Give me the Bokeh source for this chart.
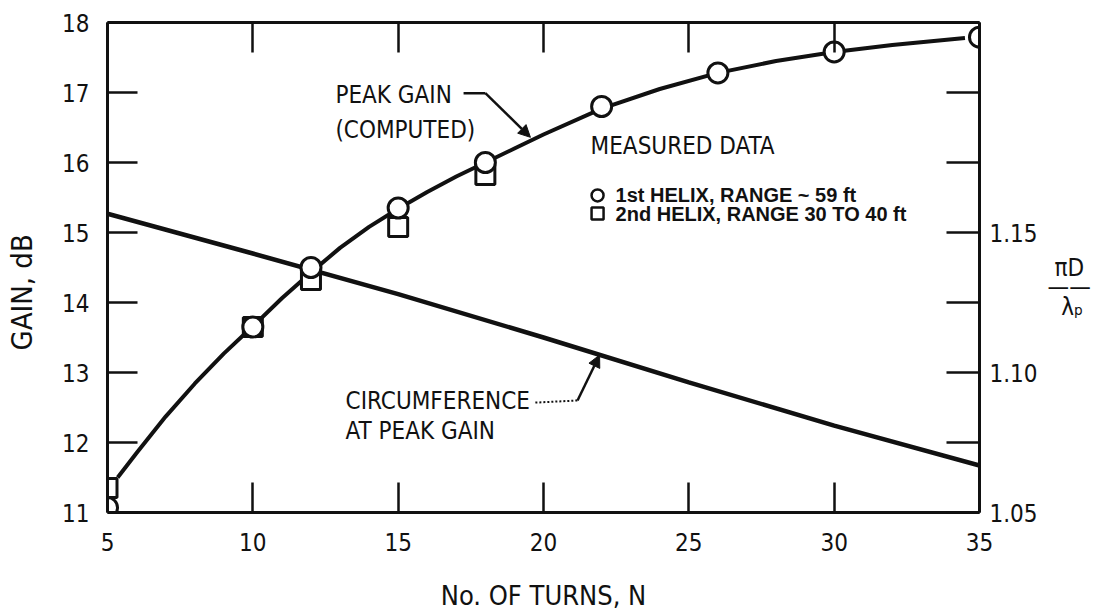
from bokeh.plotting import figure
from bokeh.models import Range1d, LinearAxis, FixedTicker, Label, Arrow, NormalHead, NumeralTickFormatter
from bokeh.embed import file_html
from bokeh.resources import INLINE

# ---- data ----
turns_h1 = [5, 10, 12, 15, 18, 22, 26, 30, 35]
gain_h1 = [11.07, 13.65, 14.5, 15.35, 16.0, 16.8, 17.28, 17.58, 17.79]

turns_h2 = [5, 10, 12, 15, 18]
gain_h2 = [11.35, 13.65, 14.32, 15.08, 15.82]

peak_turns = [5.35, 6, 7, 8, 9, 10, 11, 12, 13, 14, 15, 16, 17, 18, 19, 20, 22, 24, 26, 28, 30, 32, 34.5]
peak_gain = [11.5, 11.85, 12.37, 12.84, 13.27, 13.66, 14.06, 14.43, 14.78, 15.08, 15.34, 15.58, 15.8,
             16.0, 16.2, 16.4, 16.77, 17.05, 17.28, 17.45, 17.58, 17.68, 17.78]

circ_turns = [5, 10, 15, 20, 25, 30, 35]
circ_ratio = [1.1567, 1.1425, 1.128, 1.1125, 1.0965, 1.081, 1.0668]

x_ticks = [5, 10, 15, 20, 25, 30, 35]
y_ticks = [11, 12, 13, 14, 15, 16, 17, 18]
right_major = [1.05, 1.10, 1.15]
right_minor = [1.075, 1.125, 1.175, 1.2, 1.225]

FONT = "DejaVu Sans Condensed, Roboto, sans-serif"
BOLD_FONT = "Liberation Sans"
INK = "#111111"
NB = "\u00a0"

p = figure(width=1094, height=615, output_backend="svg", toolbar_location=None,
           x_range=Range1d(5, 35), y_range=Range1d(11, 18),
           min_border_left=107, min_border_right=115, min_border_top=22, min_border_bottom=103,
           background_fill_color="white", border_fill_color="white")
p.grid.visible = False
p.outline_line_color = None
p.extra_y_ranges = {"ratio": Range1d(1.05, 1.225)}

def style_axis(ax, tick_len, standoff=20):
    ax.axis_line_width = 3
    ax.axis_line_color = INK
    ax.major_tick_line_width = 2.5
    ax.major_tick_line_color = INK
    ax.minor_tick_line_width = 2.5
    ax.minor_tick_line_color = INK
    ax.major_tick_in = tick_len
    ax.major_tick_out = 0
    ax.minor_tick_in = tick_len
    ax.minor_tick_out = 0
    ax.major_label_text_font = FONT
    ax.major_label_text_font_size = "24px"
    ax.major_label_text_color = INK
    ax.major_label_standoff = standoff
    ax.axis_label_text_font = FONT
    ax.axis_label_text_font_style = "normal"
    ax.axis_label_text_font_size = "27px"
    ax.axis_label_text_color = INK

xa = p.xaxis[0]
xa.ticker = FixedTicker(ticks=x_ticks, minor_ticks=[])
style_axis(xa, 30, standoff=20)
xa.axis_label = "No. OF TURNS, N"
xa.axis_label_standoff = 26

ya = p.yaxis[0]
ya.ticker = FixedTicker(ticks=y_ticks, minor_ticks=[])
style_axis(ya, 30, standoff=18)
ya.axis_label = "GAIN, dB" + NB * 6
ya.axis_label_text_font_size = "29px"
ya.axis_label_standoff = 20

# top frame edge: ticks only (minor ticks carry no labels)
top = LinearAxis(ticker=FixedTicker(ticks=[], minor_ticks=x_ticks))
style_axis(top, 30, standoff=0)
p.add_layout(top, "above")

right = LinearAxis(y_range_name="ratio",
                   ticker=FixedTicker(ticks=right_major, minor_ticks=right_minor),
                   formatter=NumeralTickFormatter(format="0.00"))
style_axis(right, 33, standoff=10)
right.axis_label = NB + "\n" + NB + "\n" + NB + "πD\n——\n" + NB + NB + "λₚ"
right.axis_label_orientation = "horizontal"
right.axis_label_text_font_size = "24px"
right.axis_label_text_line_height = 0.7
right.axis_label_standoff = 7
p.add_layout(right, "right")

# curves
p.line(peak_turns, peak_gain, line_width=4, line_color=INK)
p.line(circ_turns, circ_ratio, y_range_name="ratio", line_width=4.5, line_color=INK)

# measured data
p.scatter(turns_h2, gain_h2, marker="square", size=19, line_width=3, line_color=INK, fill_color="white")
p.scatter(turns_h1, gain_h1, marker="circle", size=20, line_width=3, line_color=INK, fill_color="white")

# annotations
def txt(x, y, s, size="24px", style="normal", font=FONT):
    lab = Label(x=x, y=y, text=s, text_font=font, text_font_size=size, text_font_style=style,
                text_color=INK, text_baseline="middle", text_align="left")
    p.add_layout(lab)
    return lab

txt(12.84, 16.96, "PEAK GAIN")
txt(12.84, 16.47, "(COMPUTED)")
p.line([17.25, 18.0], [16.99, 16.99], line_width=2.5, line_color=INK)
p.add_layout(Arrow(end=NormalHead(size=12, fill_color=INK, line_color=INK),
                   x_start=18.0, y_start=16.99, x_end=19.55, y_end=16.36,
                   line_width=2.5, line_color=INK))

txt(13.19, 12.6, "CIRCUMFERENCE")
txt(13.19, 12.16, "AT PEAK GAIN")
p.line([19.72, 21.17], [12.57, 12.6], line_width=2, line_color=INK, line_dash="2 2")
p.add_layout(Arrow(end=NormalHead(size=12, fill_color=INK, line_color=INK),
                   x_start=21.17, y_start=12.6, x_end=21.93, y_end=13.25,
                   line_width=2.5, line_color=INK))

txt(21.62, 16.24, "MEASURED DATA")
p.scatter([21.86], [15.53], marker="circle", size=12, line_width=2.5, line_color=INK, fill_color="white")
p.scatter([21.86], [15.27], marker="square", size=12, line_width=2.5, line_color=INK, fill_color="white")
txt(22.48, 15.53, "1st HELIX, RANGE ~  59 ft", size="20px", style="bold", font=BOLD_FONT)
txt(22.48, 15.27, "2nd HELIX, RANGE 30 TO 40 ft", size="20px", style="bold", font=BOLD_FONT)

open("out.html", "w").write(file_html(p, INLINE))
